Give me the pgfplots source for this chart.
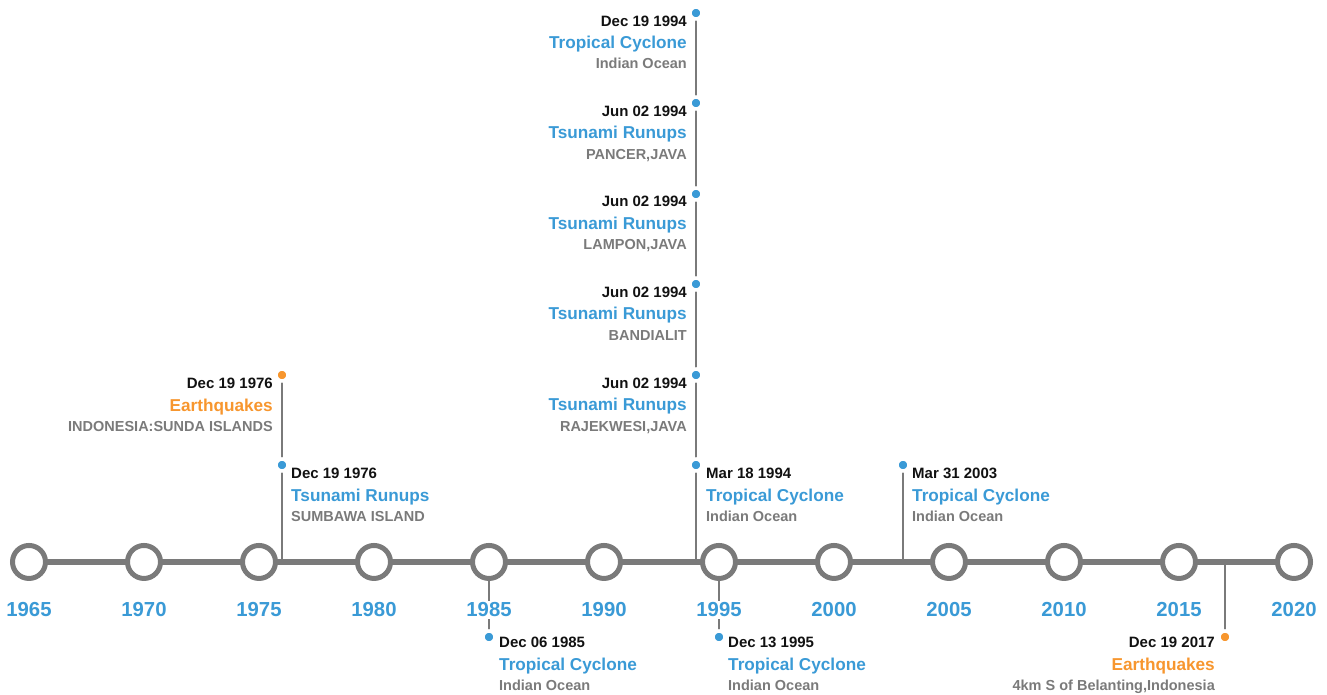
\documentclass[border=0pt]{standalone}
\usepackage{pgfplots}
\pgfplotsset{compat=1.18}
\usepackage{fontspec}
\setmainfont{Liberation Sans}
\definecolor{tlgray}{HTML}{7A7A7A}
\definecolor{tlblue}{HTML}{3A9AD6}
\definecolor{tlorange}{HTML}{F7962E}
\definecolor{tlblack}{HTML}{111111}
\newcommand{\dt}[1]{{\color{tlblack}\fontsize{15}{18}\selectfont #1}}
\newcommand{\cat}[2]{{\color{#1}\fontsize{17.2}{20}\selectfont #2}}
\newcommand{\sub}[1]{{\color{tlgray}\fontsize{14.5}{17}\selectfont #1}}
\begin{document}
\begin{tikzpicture}
\begin{axis}[
  width=1327pt, height=695pt, scale only axis,
  xmin=1963.7391, xmax=2021.4348,
  ymin=0, ymax=695, y dir=reverse,
  hide axis, clip=false,
]
% main timeline
\addplot[tlgray, line width=6pt] coordinates {(1965,562) (2020,562)};
% stems
\addplot[tlgray, line width=2.6pt] coordinates {(1976,375) (1976,562)};
\addplot[tlgray, line width=2.6pt] coordinates {(1985,562) (1985,642)};
\addplot[tlgray, line width=2.6pt] coordinates {(1994,13) (1994,562)};
\addplot[tlgray, line width=2.6pt] coordinates {(1995,562) (1995,642)};
\addplot[tlgray, line width=2.6pt] coordinates {(2003,465) (2003,562)};
\addplot[tlgray, line width=2.6pt] coordinates {(2017,562) (2017,642)};
% year circles
\addplot[only marks, mark=*, mark size=16.5pt,
  mark options={draw=tlgray, fill=white, line width=5pt}]
  coordinates {(1965,562) (1970,562) (1975,562) (1980,562) (1985,562) (1990,562)
               (1995,562) (2000,562) (2005,562) (2010,562) (2015,562) (2020,562)};
% event dots
\addplot[only marks, mark=*, mark size=6pt,
  mark options={draw=white, fill=tlblue, line width=3.5pt}]
  coordinates {(1976,465) (1985,637) (1994,13) (1994,103) (1994,194) (1994,284)
               (1994,375) (1994,465) (1995,637) (2003,465)};
\addplot[only marks, mark=*, mark size=6pt,
  mark options={draw=white, fill=tlorange, line width=3.5pt}]
  coordinates {(1976,375) (2017,637)};
% year labels
\foreach \yr in {1965,1970,...,2020}{
  \edef\tmp{\noexpand\node[fill=white, inner sep=2pt, anchor=base, text=tlblue,
     font=\noexpand\fontsize{20.3}{24}\noexpand\selectfont\noexpand\bfseries]
     at (axis cs:\yr,617) {\yr};}
  \tmp
}
\begin{scope}[every node/.style={inner sep=0pt, font=\bfseries}]
% 1976 earthquake (left)
\node[anchor=base east, xshift=-9pt] at (axis cs:1976,389) {\dt{Dec 19 1976}};
\node[anchor=base east, xshift=-9pt] at (axis cs:1976,412) {\cat{tlorange}{Earthquakes}};
\node[anchor=base east, xshift=-9pt] at (axis cs:1976,432) {\sub{INDONESIA:SUNDA ISLANDS}};
% 1976 tsunami (right)
\node[anchor=base west, xshift=9pt] at (axis cs:1976,479) {\dt{Dec 19 1976}};
\node[anchor=base west, xshift=9pt] at (axis cs:1976,502) {\cat{tlblue}{Tsunami Runups}};
\node[anchor=base west, xshift=9pt] at (axis cs:1976,522) {\sub{SUMBAWA ISLAND}};
% 1994 stack (left)
\node[anchor=base east, xshift=-9pt] at (axis cs:1994,27) {\dt{Dec 19 1994}};
\node[anchor=base east, xshift=-9pt] at (axis cs:1994,49) {\cat{tlblue}{Tropical Cyclone}};
\node[anchor=base east, xshift=-9pt] at (axis cs:1994,69) {\sub{Indian Ocean}};
\node[anchor=base east, xshift=-9pt] at (axis cs:1994,117) {\dt{Jun 02 1994}};
\node[anchor=base east, xshift=-9pt] at (axis cs:1994,139) {\cat{tlblue}{Tsunami Runups}};
\node[anchor=base east, xshift=-9pt] at (axis cs:1994,160) {\sub{PANCER,JAVA}};
\node[anchor=base east, xshift=-9pt] at (axis cs:1994,207) {\dt{Jun 02 1994}};
\node[anchor=base east, xshift=-9pt] at (axis cs:1994,230) {\cat{tlblue}{Tsunami Runups}};
\node[anchor=base east, xshift=-9pt] at (axis cs:1994,250) {\sub{LAMPON,JAVA}};
\node[anchor=base east, xshift=-9pt] at (axis cs:1994,298) {\dt{Jun 02 1994}};
\node[anchor=base east, xshift=-9pt] at (axis cs:1994,320) {\cat{tlblue}{Tsunami Runups}};
\node[anchor=base east, xshift=-9pt] at (axis cs:1994,341) {\sub{BANDIALIT}};
\node[anchor=base east, xshift=-9pt] at (axis cs:1994,389) {\dt{Jun 02 1994}};
\node[anchor=base east, xshift=-9pt] at (axis cs:1994,411) {\cat{tlblue}{Tsunami Runups}};
\node[anchor=base east, xshift=-9pt] at (axis cs:1994,432) {\sub{RAJEKWESI,JAVA}};
% 1994 Mar (right)
\node[anchor=base west, xshift=10pt] at (axis cs:1994,479) {\dt{Mar 18 1994}};
\node[anchor=base west, xshift=10pt] at (axis cs:1994,502) {\cat{tlblue}{Tropical Cyclone}};
\node[anchor=base west, xshift=10pt] at (axis cs:1994,522) {\sub{Indian Ocean}};
% 2003 (right)
\node[anchor=base west, xshift=9pt] at (axis cs:2003,479) {\dt{Mar 31 2003}};
\node[anchor=base west, xshift=9pt] at (axis cs:2003,502) {\cat{tlblue}{Tropical Cyclone}};
\node[anchor=base west, xshift=9pt] at (axis cs:2003,522) {\sub{Indian Ocean}};
% 1985 (bottom right)
\node[anchor=base west, xshift=10pt] at (axis cs:1985,648) {\dt{Dec 06 1985}};
\node[anchor=base west, xshift=10pt] at (axis cs:1985,671) {\cat{tlblue}{Tropical Cyclone}};
\node[anchor=base west, xshift=10pt] at (axis cs:1985,691) {\sub{Indian Ocean}};
% 1995 (bottom right)
\node[anchor=base west, xshift=9pt] at (axis cs:1995,648) {\dt{Dec 13 1995}};
\node[anchor=base west, xshift=9pt] at (axis cs:1995,671) {\cat{tlblue}{Tropical Cyclone}};
\node[anchor=base west, xshift=9pt] at (axis cs:1995,691) {\sub{Indian Ocean}};
% 2017 (bottom left)
\node[anchor=base east, xshift=-10pt] at (axis cs:2017,648) {\dt{Dec 19 2017}};
\node[anchor=base east, xshift=-10pt] at (axis cs:2017,671) {\cat{tlorange}{Earthquakes}};
\node[anchor=base east, xshift=-10pt] at (axis cs:2017,691) {\sub{4km S of Belanting,Indonesia}};
\end{scope}
\end{axis}
\pgfresetboundingbox
\path (current axis.south west) rectangle (current axis.north east);
\end{tikzpicture}
\end{document}
